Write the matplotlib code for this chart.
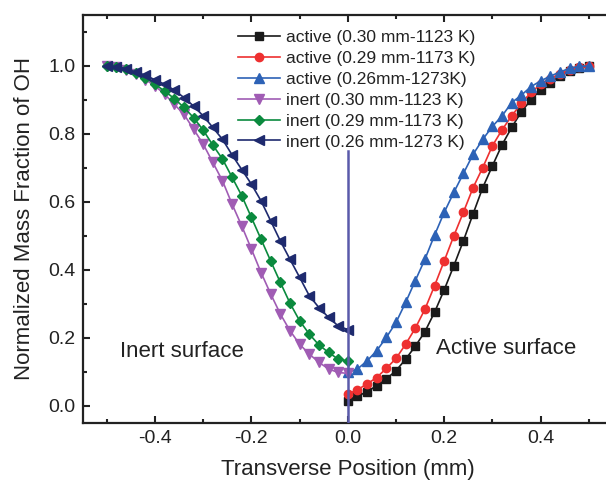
import matplotlib
matplotlib.use("Agg")
import matplotlib.pyplot as plt
import numpy as np
from matplotlib.ticker import MultipleLocator

plt.rcParams['font.family'] = ['Liberation Sans', 'DejaVu Sans']
plt.rcParams['axes.unicode_minus'] = False

x_inert = [-0.50, -0.48, -0.46, -0.44, -0.42, -0.40, -0.38, -0.36, -0.34, -0.32, -0.30,
           -0.28, -0.26, -0.24, -0.22, -0.20, -0.18, -0.16, -0.14, -0.12, -0.10,
           -0.08, -0.06, -0.04, -0.02, 0.00]
x_active = [0.00, 0.02, 0.04, 0.06, 0.08, 0.10, 0.12, 0.14, 0.16, 0.18, 0.20,
            0.22, 0.24, 0.26, 0.28, 0.30, 0.32, 0.34, 0.36, 0.38, 0.40,
            0.42, 0.44, 0.46, 0.48, 0.50]

active_030 = [0.015, 0.028, 0.041, 0.059, 0.079, 0.103, 0.137, 0.175, 0.218, 0.275, 0.341,
              0.412, 0.486, 0.565, 0.642, 0.706, 0.768, 0.819, 0.865, 0.900, 0.930,
              0.951, 0.970, 0.985, 0.995, 1.000]
active_029 = [0.034, 0.047, 0.064, 0.083, 0.110, 0.139, 0.181, 0.228, 0.284, 0.353, 0.426,
              0.500, 0.570, 0.642, 0.701, 0.765, 0.812, 0.853, 0.890, 0.922, 0.946,
              0.963, 0.977, 0.988, 0.996, 1.000]
active_026 = [0.098, 0.108, 0.132, 0.162, 0.201, 0.245, 0.304, 0.368, 0.431, 0.502, 0.569,
              0.628, 0.684, 0.740, 0.784, 0.822, 0.853, 0.892, 0.914, 0.939, 0.956,
              0.970, 0.982, 0.993, 0.999, 1.000]
inert_030 = [1.000, 0.996, 0.987, 0.975, 0.960, 0.941, 0.917, 0.887, 0.858, 0.814, 0.770,
             0.716, 0.662, 0.593, 0.529, 0.461, 0.392, 0.329, 0.270, 0.221, 0.181,
             0.152, 0.128, 0.108, 0.098, 0.095]
inert_029 = [1.000, 0.997, 0.990, 0.979, 0.966, 0.946, 0.926, 0.904, 0.878, 0.848, 0.811,
             0.767, 0.726, 0.672, 0.618, 0.554, 0.490, 0.426, 0.363, 0.302, 0.250,
             0.211, 0.179, 0.157, 0.137, 0.132]
inert_026 = [1.000, 0.998, 0.992, 0.982, 0.973, 0.959, 0.946, 0.929, 0.907, 0.882, 0.853,
             0.819, 0.784, 0.738, 0.695, 0.652, 0.603, 0.544, 0.485, 0.431, 0.378,
             0.324, 0.289, 0.260, 0.235, 0.224]

labels = ["active (0.30 mm-1123 K)", "active (0.29 mm-1173 K)", "active (0.26mm-1273K)",
          "inert (0.30 mm-1123 K)", "inert (0.29 mm-1173 K)", "inert (0.26 mm-1273 K)"]

fig = plt.figure(figsize=(6.06, 4.83), dpi=100)
ax = fig.add_axes([82.7/606, 60.3/483, 1.1*482/606, 407.7/483])

series = [
    (x_active, active_030, '#1a1a1a', 's', 5.2),
    (x_active, active_029, '#ee3030', 'o', 6.0),
    (x_active, active_026, '#2d62b6', '^', 6.8),
    (x_inert, inert_030, '#a05cb4', 'v', 6.8),
    (x_inert, inert_029, '#0b8a3e', 'D', 5.2),
    (x_inert, inert_026, '#1e2a6e', '<', 6.8),
]
for (xs, ys, c, m, ms), lab in zip(series, labels):
    ax.plot(xs, ys, color=c, marker=m, markersize=ms, linewidth=1.2, label=lab)

ax.plot([0, 0], [-0.05, 0.75], color='#5a5aaa', linewidth=1.8, zorder=5)

ax.set_xlim(-0.55, 0.55)
ax.set_ylim(-0.05, 1.15)
ax.xaxis.set_minor_locator(MultipleLocator(0.1))
ax.yaxis.set_minor_locator(MultipleLocator(0.1))
ax.set_xticks([-0.4, -0.2, 0.0, 0.2, 0.4])
ax.set_xticklabels(["-0.4", "-0.2", "0.0", "0.2", "0.4"])
ax.set_yticks([0.0, 0.2, 0.4, 0.6, 0.8, 1.0])
ax.set_yticklabels(["0.0", "0.2", "0.4", "0.6", "0.8", "1.0"])
ax.tick_params(which='both', direction='in', top=True, right=False, width=1.5, labelsize=14, colors='#222222')
ax.tick_params(which='major', length=5, pad=5)
ax.tick_params(which='minor', length=3)
for s in ax.spines.values():
    s.set_linewidth(1.6)
    s.set_color('#222222')

ax.set_xlabel("Transverse Position (mm)", fontsize=16, color='#222222', labelpad=9)
ax.set_ylabel("Normalized Mass Fraction of OH", fontsize=16, color='#222222', labelpad=10)

ax.text(-0.473, 0.161, "Inert surface", fontsize=16, color='#222222', va='center', ha='left')
ax.text(0.183, 0.167, "Active surface", fontsize=16, color='#222222', va='center', ha='left')

leg = ax.legend(loc='upper left', bbox_to_anchor=(238/606, 1 - 30/483), bbox_transform=fig.transFigure,
                frameon=False, fontsize=12.5, handlelength=2.4, handletextpad=0.35,
                labelspacing=0.33, borderpad=0, borderaxespad=0)
for t in leg.get_texts():
    t.set_color('#222222')

fig.savefig("out.png", dpi=100)
